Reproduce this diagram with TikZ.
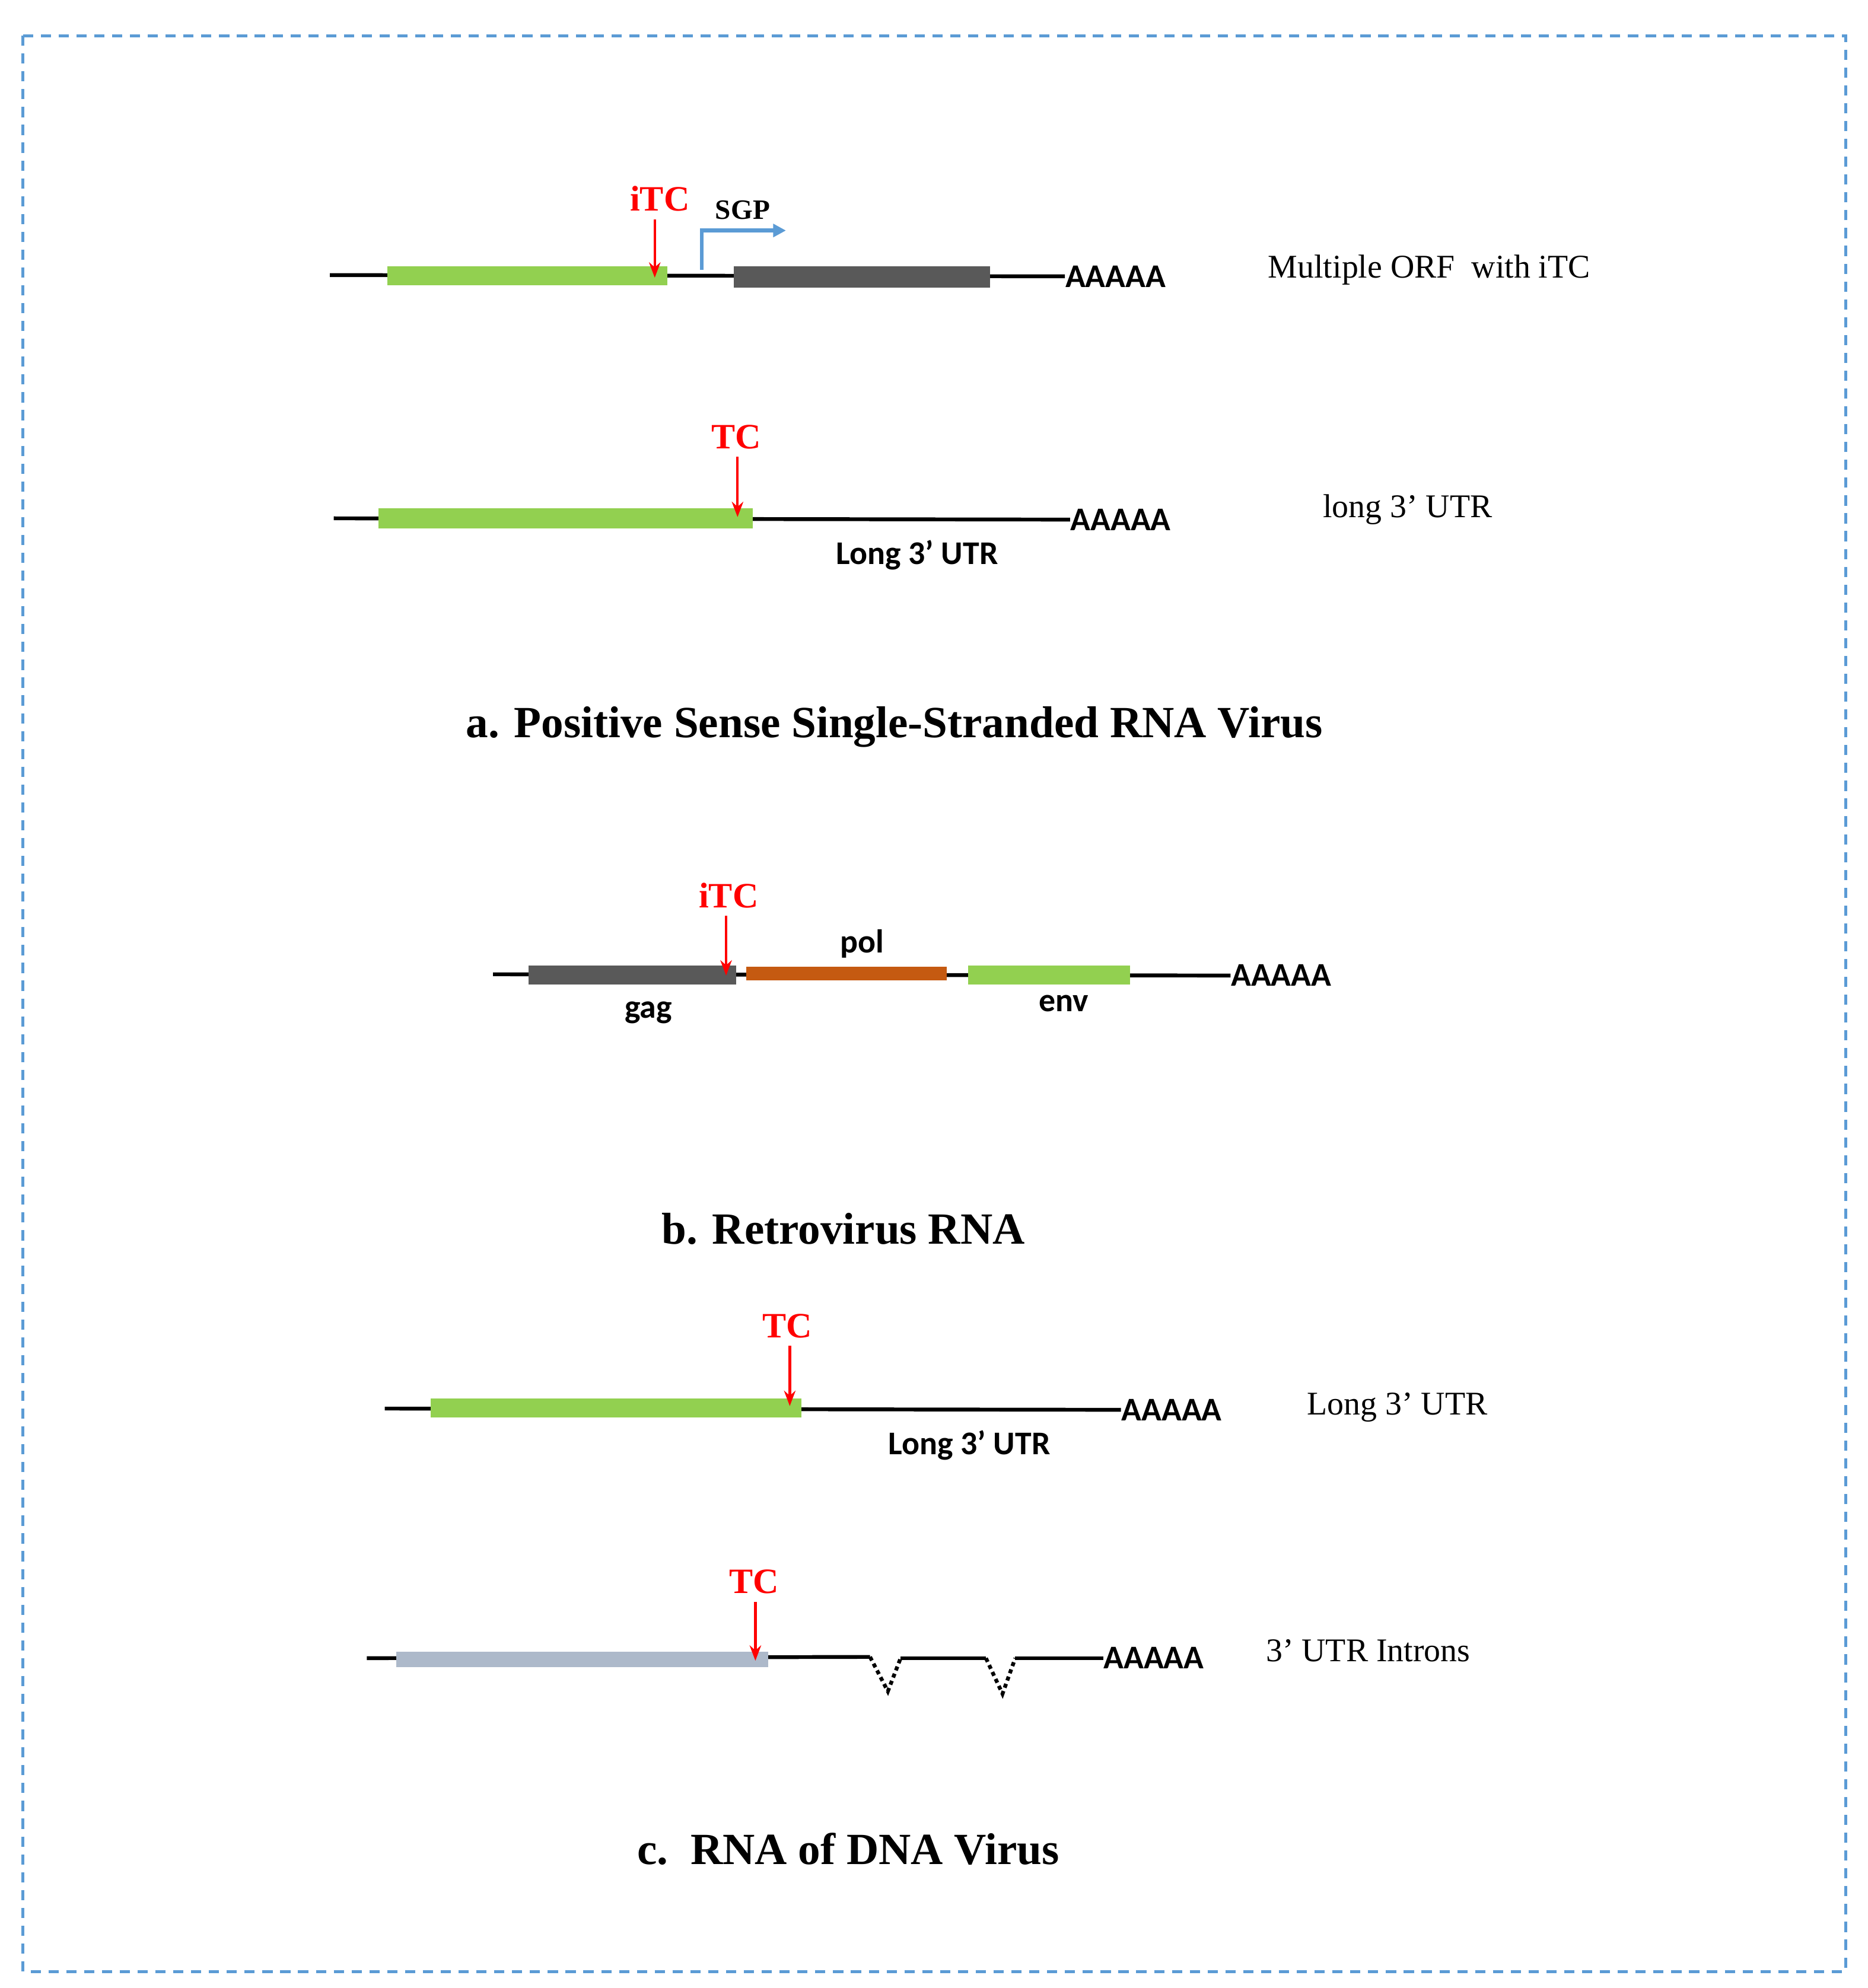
\documentclass[tikz,border=0pt]{standalone}
\usepackage{fontspec}
\setmainfont{Liberation Serif}
\newfontfamily\calib{Carlito}
\usetikzlibrary{arrows.meta}
\definecolor{G}{RGB}{146,208,80}
\definecolor{D}{RGB}{89,89,89}
\definecolor{O}{RGB}{197,90,17}
\definecolor{S}{RGB}{173,185,202}
\definecolor{B}{RGB}{91,155,213}

\begin{document}
\begin{tikzpicture}[x=0.5pt,y=-0.5pt,
    rna/.style={line width=1.5pt},
    intron/.style={line width=1.5pt,dash pattern=on 1.6pt off 1.4pt},
    tc/.style={red,line width=1pt,-{Stealth[length=6pt,width=4.5pt]}},
    tclab/.style={text=red,inner sep=0pt,font=\fontsize{14}{14}\selectfont\bfseries},
    aaa/.style={anchor=west,inner sep=0pt,font=\calib\fontsize{13}{13}\selectfont\bfseries},
    gene/.style={inner sep=0pt,font=\calib\fontsize{13}{13}\selectfont\bfseries},
    desc/.style={inner sep=0pt,font=\fontsize{13}{13}\selectfont},
    ttl/.style={inner sep=0pt,font=\fontsize{17.5}{17.5}\selectfont\bfseries}]
    \useasboundingbox (0,0) rectangle (1466,1561);
    %marco
    \draw[B,line width=1.2pt,dash pattern=on 4pt off 3pt] (18,28) rectangle (1449,1548);

    %Fila 1: varios ORF con iTC
    \coordinate (r1s) at (259,216);
    \coordinate (r1e) at (836,217);
    \draw[rna] (r1s) -- (r1e);
    \fill[G] (304,209) rectangle (524,224);
    \fill[D] (576,209) rectangle (777,226);
    \node[aaa] (pa1) at (r1e) {AAAAA};
    \node[tclab] (itc1) at (518,156) {iTC};
    \coordinate (t1) at (514,218);
    \draw[tc] (t1 |- itc1.south) ++(0,6) -- (t1);
    \node[inner sep=0pt,font=\fontsize{11}{11}\selectfont\bfseries] (sgp) at (583,165) {SGP};
    \coordinate (p1) at (551,212);
    \coordinate (p2) at (617,181);
    \draw[B,line width=1.5pt,-{Triangle[length=5pt,width=5pt]}] (p1) |- (p2);
    \node[desc] (d1) at (1122,212) {Multiple ORF\ \ with iTC};

    %Fila 2: 3' UTR largo
    \coordinate (r2s) at (262,407);
    \coordinate (r2e) at (840,408);
    \draw[rna] (r2s) -- (r2e);
    \fill[G] (297,399) rectangle (591,415);
    \node[aaa] (pa2) at (r2e) {AAAAA};
    \node[tclab] (tc2) at (578,343) {TC};
    \coordinate (t2) at (579,406);
    \draw[tc] (t2 |- tc2.south) ++(0,6) -- (t2);
    \node[gene] (u2) at (720,436) {Long 3’ UTR};
    \node[desc] (d2) at (1105,400) {long 3’ UTR};

    \node[ttl] (ta) at (702,571) {a. Positive Sense Single-Stranded RNA Virus};

    %Fila 3: retrovirus
    \coordinate (r3s) at (387,765);
    \coordinate (r3e) at (966,766);
    \draw[rna] (r3s) -- (r3e);
    \fill[D] (415,758) rectangle (578,773);
    \fill[O] (586,759) rectangle (743,770);
    \fill[G] (760,758) rectangle (887,773);
    \node[aaa] (pa3) at (r3e) {AAAAA};
    \node[tclab] (itc3) at (572,703) {iTC};
    \coordinate (t3) at (570,766);
    \draw[tc] (t3 |- itc3.south) ++(0,6) -- (t3);
    \node[gene] (pol) at (677,741) {pol};
    \node[gene] (gag) at (509,795) {gag};
    \node[gene] (env) at (835,788) {env};

    \node[ttl] (tb) at (662,965) {b. Retrovirus RNA};

    %Fila 4: 3' UTR largo
    \coordinate (r4s) at (302,1106);
    \coordinate (r4e) at (880,1107);
    \draw[rna] (r4s) -- (r4e);
    \fill[G] (338,1098) rectangle (629,1113);
    \node[aaa] (pa4) at (r4e) {AAAAA};
    \node[tclab] (tc4) at (618,1041) {TC};
    \coordinate (t4) at (620,1104);
    \draw[tc] (t4 |- tc4.south) ++(0,6) -- (t4);
    \node[gene] (u4) at (761,1135) {Long 3’ UTR};
    \node[desc] (d4) at (1097,1105) {Long 3’ UTR};

    %Fila 5: intrones en el 3' UTR
    \coordinate (r5s) at (288,1302);
    \coordinate (i1a) at (683,1301);
    \coordinate (i1b) at (697,1328);
    \coordinate (i1c) at (707,1302);
    \coordinate (i2a) at (774,1302);
    \coordinate (i2b) at (787,1330);
    \coordinate (i2c) at (797,1302);
    \coordinate (r5e) at (866,1302);
    \draw[rna] (r5s) -- (i1a);
    \draw[rna] (i1c) -- (i2a);
    \draw[rna] (i2c) -- (r5e);
    \draw[intron] (i1a) -- (i1b) -- (i1c);
    \draw[intron] (i2a) -- (i2b) -- (i2c);
    \fill[S] (311,1297) rectangle (603,1309);
    \node[aaa] (pa5) at (r5e) {AAAAA};
    \node[tclab] (tc5) at (592,1242) {TC};
    \coordinate (t5) at (593,1304);
    \draw[tc] (t5 |- tc5.south) ++(0,6) -- (t5);
    \node[desc] (d5) at (1074,1296) {3’ UTR Introns};

    \node[ttl] (tcc) at (666,1452) {c.\ \ RNA of DNA Virus};
\end{tikzpicture}
\end{document}
